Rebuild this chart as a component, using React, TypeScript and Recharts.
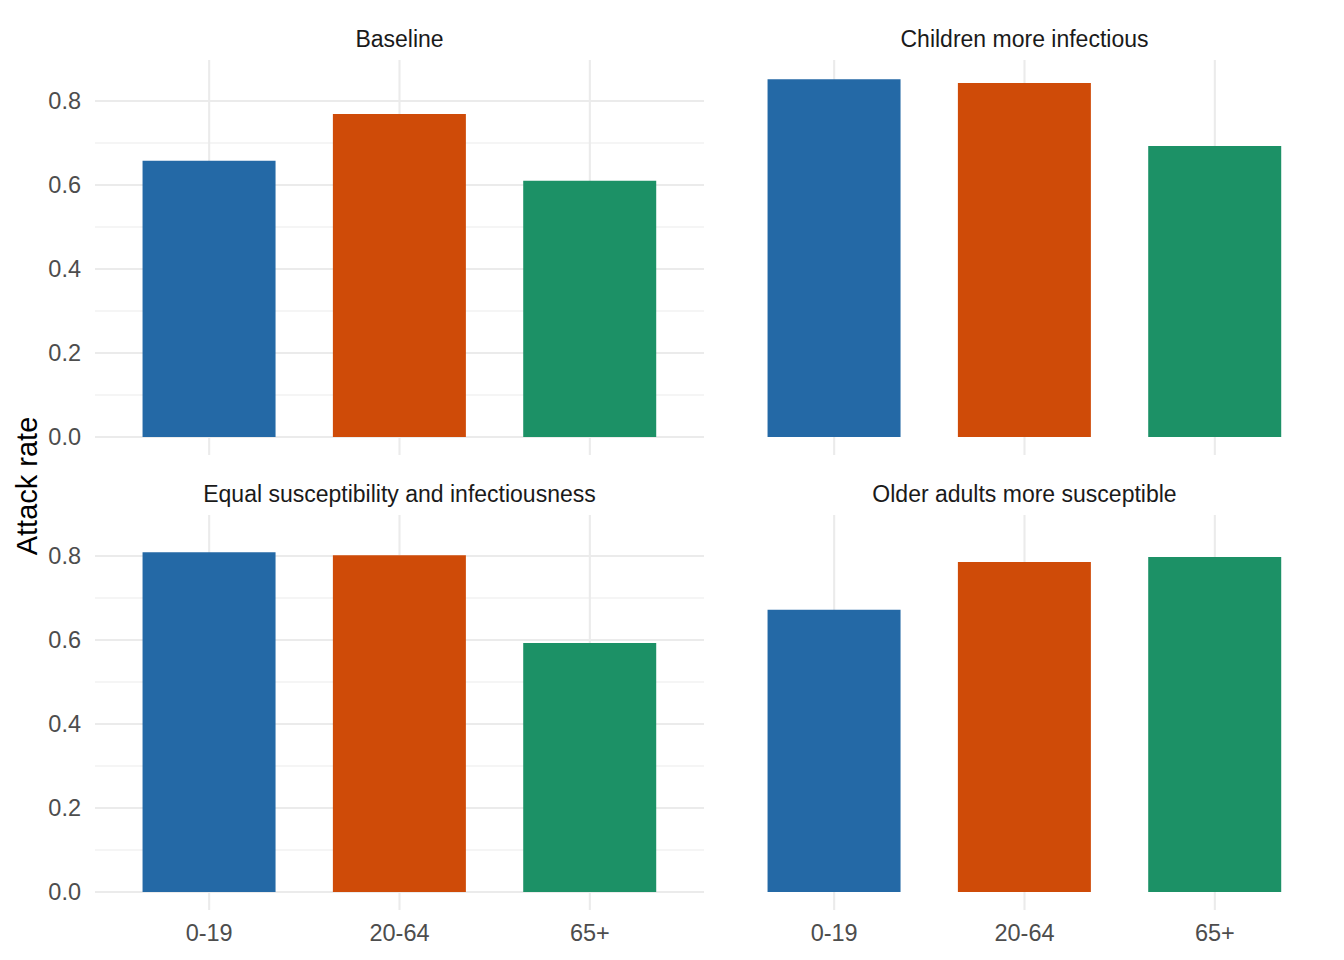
import { BarChart, Bar, XAxis, YAxis, CartesianGrid, Cell, ReferenceLine } from "recharts";

const ageGroups = ["0-19", "20-64", "65+"];
const baseline = [0.658, 0.769, 0.61];
const childrenInfectious = [0.852, 0.843, 0.693];
const equalSusceptibility = [0.809, 0.802, 0.593];
const olderSusceptible = [0.672, 0.786, 0.798];
const yTicks = [0, 0.2, 0.4, 0.6, 0.8];
const yMinorTicks = [0.1, 0.3, 0.5, 0.7];
const COLORS = ["#2469a6", "#cf4b08", "#1c9166"]; // blue, orange, green per age group

const FONT = "'Liberation Sans', Arial, Helvetica, sans-serif";
const GRID = "#ebebeb";
const Y_DOMAIN = [-0.04275, 0.89775];

interface PanelProps {
  title: string;
  values: number[];
  left: number;
  top: number;
  showY: boolean;
  showX: boolean;
}

function Panel({ title, values, left, top, showY, showX }: PanelProps) {
  const data = ageGroups.map((age, i) => ({ age, value: values[i] }));
  const yWidth = showY ? 95 : 0;
  const xHeight = showX ? 50 : 0;
  const plotW = 609;
  const plotH = 395;
  const tickStyle = { fontSize: 23.5, fill: "#4d4d4d", fontFamily: FONT };

  return (
    <div style={{ position: "absolute", left: left - yWidth, top: top - 32 }}>
      <div
        style={{
          position: "absolute",
          left: yWidth,
          top: 0,
          width: plotW,
          textAlign: "center",
          fontFamily: FONT,
          fontSize: 23,
          lineHeight: "23px",
          color: "#1a1a1a",
          whiteSpace: "nowrap",
        }}
      >
        {title}
      </div>
      <div style={{ position: "absolute", left: 0, top: 32 }}>
        <BarChart
          width={plotW + yWidth}
          height={plotH + xHeight}
          data={data}
          margin={{ top: 0, right: 0, bottom: 0, left: 0 }}
          barCategoryGap="15%"
        >
          <CartesianGrid
            vertical={false}
            horizontalValues={yMinorTicks}
            stroke={GRID}
            strokeWidth={1.1}
          />
          <CartesianGrid
            vertical={false}
            horizontalValues={yTicks}
            stroke={GRID}
            strokeWidth={2.1}
          />
          {ageGroups.map((age) => (
            <ReferenceLine key={age} x={age} stroke={GRID} strokeWidth={2.1} zIndex={-1} />
          ))}
          <XAxis
            dataKey="age"
            type="category"
            padding={{ left: 19, right: 19 }}
            height={xHeight}
            axisLine={false}
            tickLine={false}
            tickSize={0}
            tickMargin={14}
            tick={showX ? tickStyle : false}
          />
          <YAxis
            type="number"
            domain={Y_DOMAIN}
            ticks={yTicks}
            allowDataOverflow
            width={yWidth}
            axisLine={false}
            tickLine={false}
            tickSize={0}
            tickMargin={14}
            tick={showY ? tickStyle : false}
            tickFormatter={(v: number) => v.toFixed(1)}
          />
          <Bar dataKey="value" isAnimationActive={false}>
            {data.map((entry, index) => (
              <Cell key={entry.age} fill={COLORS[index % COLORS.length]} />
            ))}
          </Bar>
        </BarChart>
      </div>
    </div>
  );
}

export default function App() {
  return (
    <div
      style={{
        position: "absolute",
        left: 0,
        top: 0,
        width: 1344,
        height: 960,
        background: "#fff",
        overflow: "hidden",
      }}
    >
      <Panel title="Baseline" values={baseline} left={95} top={60} showY showX={false} />
      <Panel
        title="Children more infectious"
        values={childrenInfectious}
        left={720}
        top={60}
        showY={false}
        showX={false}
      />
      <Panel
        title="Equal susceptibility and infectiousness"
        values={equalSusceptibility}
        left={95}
        top={515}
        showY
        showX
      />
      <Panel
        title="Older adults more susceptible"
        values={olderSusceptible}
        left={720}
        top={515}
        showY={false}
        showX
      />
      <svg width={60} height={960} style={{ position: "absolute", left: 0, top: 0 }}>
        <text
          transform="translate(37,486) rotate(-90)"
          textAnchor="middle"
          fontFamily={FONT}
          fontSize={29}
          fill="#000"
        >
          Attack rate
        </text>
      </svg>
    </div>
  );
}
